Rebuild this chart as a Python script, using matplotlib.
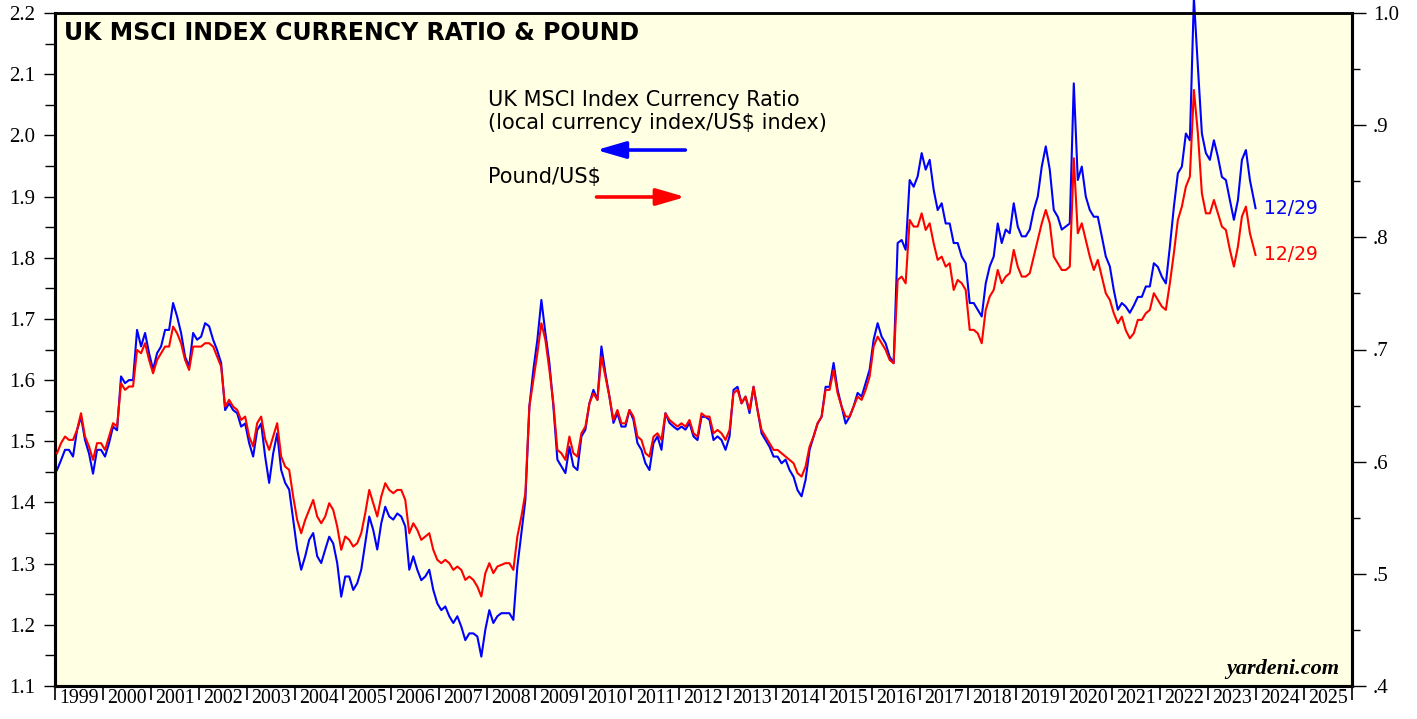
import matplotlib
matplotlib.use("Agg")
import matplotlib.pyplot as plt
import numpy as np
from matplotlib.ticker import MultipleLocator, FuncFormatter, NullFormatter, FixedLocator

# ---------------- data (monthly, mid-month values) ----------------
start_year = 1999
year_labels = [str(y) for y in range(1999, 2026)]

# UK MSCI Index Currency Ratio (local currency index / US$ index), left axis
ratio = [
    1.453, 1.469, 1.486, 1.486, 1.475, 1.518, 1.540, 1.502, 1.480, 1.447, 1.486, 1.486,  # 1999
    1.475, 1.497, 1.524, 1.518, 1.606, 1.595, 1.600, 1.600, 1.682, 1.655, 1.677, 1.644,  # 2000
    1.617, 1.644, 1.655, 1.682, 1.682, 1.726, 1.704, 1.677, 1.638, 1.622, 1.677, 1.666,  # 2001
    1.671, 1.693, 1.688, 1.666, 1.649, 1.628, 1.551, 1.562, 1.551, 1.546, 1.524, 1.529,  # 2002
    1.497, 1.475, 1.518, 1.529, 1.475, 1.432, 1.480, 1.513, 1.453, 1.432, 1.421, 1.372,  # 2003
    1.323, 1.290, 1.312, 1.339, 1.350, 1.312, 1.301, 1.323, 1.344, 1.333, 1.301, 1.246,  # 2004
    1.279, 1.279, 1.257, 1.268, 1.290, 1.333, 1.377, 1.355, 1.323, 1.366, 1.393, 1.377,  # 2005
    1.372, 1.382, 1.377, 1.361, 1.290, 1.312, 1.290, 1.273, 1.279, 1.290, 1.257, 1.235,  # 2006
    1.224, 1.230, 1.214, 1.203, 1.214, 1.197, 1.175, 1.186, 1.186, 1.181, 1.148, 1.192,  # 2007
    1.224, 1.203, 1.214, 1.219, 1.219, 1.219, 1.208, 1.295, 1.350, 1.404, 1.557, 1.617,  # 2008
    1.666, 1.731, 1.677, 1.628, 1.557, 1.470, 1.459, 1.448, 1.491, 1.459, 1.453, 1.508,  # 2009
    1.519, 1.562, 1.584, 1.568, 1.655, 1.611, 1.573, 1.530, 1.546, 1.524, 1.524, 1.551,  # 2010
    1.535, 1.497, 1.486, 1.464, 1.453, 1.497, 1.508, 1.486, 1.546, 1.530, 1.524, 1.519,  # 2011
    1.524, 1.519, 1.530, 1.508, 1.502, 1.540, 1.540, 1.535, 1.502, 1.508, 1.502, 1.486,  # 2012
    1.508, 1.584, 1.589, 1.562, 1.573, 1.546, 1.589, 1.551, 1.513, 1.502, 1.491, 1.475,  # 2013
    1.475, 1.464, 1.470, 1.453, 1.442, 1.420, 1.410, 1.437, 1.486, 1.508, 1.529, 1.540,  # 2014
    1.589, 1.589, 1.628, 1.584, 1.557, 1.529, 1.540, 1.557, 1.579, 1.573, 1.595, 1.617,  # 2015
    1.666, 1.693, 1.671, 1.660, 1.638, 1.628, 1.824, 1.829, 1.813, 1.927, 1.916, 1.933,  # 2016
    1.971, 1.944, 1.960, 1.911, 1.878, 1.889, 1.856, 1.856, 1.824, 1.824, 1.802, 1.791,  # 2017
    1.726, 1.726, 1.715, 1.704, 1.758, 1.786, 1.802, 1.856, 1.824, 1.846, 1.840, 1.889,  # 2018
    1.851, 1.835, 1.835, 1.846, 1.878, 1.900, 1.949, 1.982, 1.944, 1.878, 1.867, 1.846,  # 2019
    1.851, 1.856, 2.085, 1.927, 1.949, 1.900, 1.878, 1.867, 1.867, 1.835, 1.802, 1.786,  # 2020
    1.747, 1.715, 1.726, 1.720, 1.710, 1.722, 1.736, 1.736, 1.753, 1.753, 1.791, 1.785,  # 2021
    1.769, 1.758, 1.818, 1.883, 1.938, 1.949, 2.003, 1.992, 2.225, 2.112, 2.003, 1.971,  # 2022
    1.960, 1.992, 1.965, 1.932, 1.927, 1.894, 1.862, 1.894, 1.960, 1.976, 1.927, 1.881,  # 2023
]

# Pound / US$, right axis
pound = [
    0.6075, 0.6165, 0.6224, 0.6194, 0.6194, 0.6283, 0.6432, 0.6224, 0.6135, 0.6016, 0.6165, 0.6165,  # 1999
    0.6105, 0.6224, 0.6343, 0.6313, 0.6699, 0.6640, 0.6670, 0.6670, 0.6996, 0.6967, 0.7056, 0.6907,  # 2000
    0.6788, 0.6907, 0.6967, 0.7026, 0.7026, 0.7204, 0.7145, 0.7056, 0.6907, 0.6818, 0.7026, 0.7026,  # 2001
    0.7026, 0.7056, 0.7056, 0.7026, 0.6937, 0.6848, 0.6491, 0.6551, 0.6491, 0.6462, 0.6372, 0.6402,  # 2002
    0.6224, 0.6135, 0.6343, 0.6402, 0.6200, 0.6105, 0.6224, 0.6343, 0.6046, 0.5956, 0.5927, 0.5689,  # 2003
    0.5481, 0.5362, 0.5481, 0.5570, 0.5659, 0.5511, 0.5451, 0.5511, 0.5630, 0.5570, 0.5422, 0.5214,  # 2004
    0.5333, 0.5303, 0.5243, 0.5273, 0.5362, 0.5540, 0.5748, 0.5630, 0.5511, 0.5689, 0.5808, 0.5748,  # 2005
    0.5719, 0.5748, 0.5748, 0.5659, 0.5362, 0.5451, 0.5392, 0.5303, 0.5333, 0.5362, 0.5214, 0.5125,  # 2006
    0.5095, 0.5125, 0.5095, 0.5035, 0.5065, 0.5035, 0.4946, 0.4976, 0.4946, 0.4887, 0.4798, 0.5006,  # 2007
    0.5095, 0.5006, 0.5065, 0.5080, 0.5095, 0.5095, 0.5035, 0.5332, 0.5510, 0.5719, 0.6490, 0.6729,  # 2008
    0.6966, 0.7234, 0.7085, 0.6818, 0.6520, 0.6105, 0.6075, 0.6016, 0.6224, 0.6075, 0.6045, 0.6253,  # 2009
    0.6313, 0.6520, 0.6610, 0.6550, 0.6937, 0.6758, 0.6580, 0.6372, 0.6461, 0.6342, 0.6342, 0.6461,  # 2010
    0.6402, 0.6223, 0.6194, 0.6075, 0.6045, 0.6223, 0.6253, 0.6194, 0.6431, 0.6372, 0.6342, 0.6313,  # 2011
    0.6342, 0.6313, 0.6372, 0.6253, 0.6223, 0.6431, 0.6402, 0.6402, 0.6253, 0.6283, 0.6253, 0.6194,  # 2012
    0.6283, 0.6610, 0.6640, 0.6521, 0.6580, 0.6461, 0.6669, 0.6461, 0.6283, 0.6224, 0.6164, 0.6105,  # 2013
    0.6105, 0.6075, 0.6045, 0.6016, 0.5986, 0.5897, 0.5867, 0.5956, 0.6135, 0.6224, 0.6343, 0.6402,  # 2014
    0.6640, 0.6640, 0.6818, 0.6610, 0.6491, 0.6402, 0.6402, 0.6491, 0.6580, 0.6551, 0.6640, 0.6759,  # 2015
    0.7026, 0.7115, 0.7056, 0.6996, 0.6907, 0.6877, 0.7620, 0.7650, 0.7590, 0.8155, 0.8096, 0.8096,  # 2016
    0.8214, 0.8066, 0.8125, 0.7947, 0.7799, 0.7828, 0.7739, 0.7769, 0.7531, 0.7620, 0.7591, 0.7531,  # 2017
    0.7175, 0.7175, 0.7145, 0.7056, 0.7353, 0.7472, 0.7531, 0.7709, 0.7591, 0.7650, 0.7680, 0.7888,  # 2018
    0.7739, 0.7650, 0.7650, 0.7680, 0.7828, 0.7977, 0.8125, 0.8244, 0.8125, 0.7828, 0.7769, 0.7709,  # 2019
    0.7709, 0.7739, 0.8705, 0.8036, 0.8125, 0.7977, 0.7828, 0.7709, 0.7799, 0.7650, 0.7501, 0.7442,  # 2020
    0.7323, 0.7234, 0.7293, 0.7170, 0.7100, 0.7145, 0.7264, 0.7264, 0.7323, 0.7353, 0.7502, 0.7442,  # 2021
    0.7383, 0.7353, 0.7591, 0.7858, 0.8155, 0.8274, 0.8452, 0.8541, 0.9314, 0.8928, 0.8393, 0.8214,  # 2022
    0.8214, 0.8333, 0.8214, 0.8096, 0.8066, 0.7888, 0.7739, 0.7917, 0.8185, 0.8274, 0.8036, 0.7843,  # 2023
]

last_label = "12/29"

# ---------------- figure ----------------
W, H = 1417, 719
fig = plt.figure(figsize=(W / 100, H / 100), dpi=100)
fig.patch.set_facecolor("white")
ax = fig.add_axes([55 / W, 33 / H, 1297 / W, 673 / H])
ax.set_facecolor("#FFFFE3")

t = start_year + (np.arange(len(ratio)) + 0.5) / 12.0
t[-1] = start_year + (len(ratio) - 0.1) / 12.0

serif = ["Liberation Serif", "DejaVu Serif"]
sans = ["DejaVu Sans"]

ax.plot(t, ratio, color="#0000FF", lw=1.5, clip_on=False, zorder=3)
ax.set_xlim(1999, 2026)
ax.set_ylim(1.1, 2.2)

ax2 = ax.twinx()
ax2.plot(t, pound, color="#FF0000", lw=1.5, zorder=3)
ax2.set_ylim(0.4, 1.0)
ax2.patch.set_visible(False)

# spines
for a in (ax, ax2):
    for s in a.spines.values():
        s.set_linewidth(2.2)
        s.set_color("black")
    a.spines["top"].set_linewidth(1.8)

# left y ticks
ax.yaxis.set_major_locator(MultipleLocator(0.1))
ax.yaxis.set_minor_locator(MultipleLocator(0.05))
ax.yaxis.set_major_formatter(FuncFormatter(lambda v, p: "%.1f" % v))
ax.tick_params(axis="y", which="major", direction="out", length=8, width=1.0, pad=6,
               labelsize=15)
ax.tick_params(axis="y", which="minor", direction="out", length=7, width=1.0)
for lab in ax.get_yticklabels():
    lab.set_family(serif)

# right y ticks
def rfmt(v, p):
    s = "%.1f" % v
    return s if v >= 0.999 else s.lstrip("0")

ax2.yaxis.set_major_locator(MultipleLocator(0.1))
ax2.yaxis.set_minor_locator(MultipleLocator(0.05))
ax2.yaxis.set_major_formatter(FuncFormatter(rfmt))
ax2.tick_params(axis="y", which="major", direction="out", length=10, width=1.0, pad=5,
                labelsize=15)
ax2.tick_params(axis="y", which="minor", direction="out", length=6, width=1.0)
for lab in ax2.get_yticklabels():
    lab.set_family(serif)

# x ticks: boundaries (major) and labels at mid-year (minor)
years = np.arange(1999, 2027)
ax.xaxis.set_major_locator(FixedLocator(years))
ax.xaxis.set_major_formatter(NullFormatter())
ax.xaxis.set_minor_locator(FixedLocator(years[:-1] + 0.5))
ax.xaxis.set_minor_formatter(FuncFormatter(
    lambda v, p: year_labels[int(v - 1999)] if 0 <= int(v - 1999) < len(year_labels) else ""))
ax.tick_params(axis="x", which="major", direction="out", length=10, width=1.2)
ax.tick_params(axis="x", which="minor", length=0, pad=2.5, labelsize=14.3)
for lab in ax.get_xticklabels(minor=True):
    lab.set_family(serif)

# title
ax.text(0.007, 0.970, "UK MSCI INDEX CURRENCY RATIO & POUND", transform=ax.transAxes,
        family=sans, fontsize=17, fontweight="bold", va="center", ha="left", zorder=5)

# legend texts and arrows
ax.text(0.334, 0.871, "UK MSCI Index Currency Ratio", transform=ax.transAxes,
        family=sans, fontsize=15, va="center", ha="left")
ax.text(0.334, 0.836, "(local currency index/US$ index)", transform=ax.transAxes,
        family=sans, fontsize=15, va="center", ha="left")
ax.annotate("", xy=(0.4175, 0.7964), xytext=(0.486, 0.7964), xycoords="axes fraction",
            arrowprops=dict(arrowstyle="-|>,head_length=1.1,head_width=0.32",
                            color="#0000FF", lw=2.6, mutation_scale=16,
                            shrinkA=0, shrinkB=0))
ax.text(0.334, 0.7563, "Pound/US$", transform=ax.transAxes,
        family=sans, fontsize=15, va="center", ha="left")
ax.annotate("", xy=(0.486, 0.7266), xytext=(0.4175, 0.7266), xycoords="axes fraction",
            arrowprops=dict(arrowstyle="-|>,head_length=1.1,head_width=0.32",
                            color="#FF0000", lw=2.6, mutation_scale=16,
                            shrinkA=0, shrinkB=0))

# end labels
ax.annotate(last_label, xy=(t[-1], ratio[-1]), xytext=(6, 0), textcoords="offset points",
            color="#0000FF", family=sans, fontsize=13.5, va="center", ha="left")
ax2.annotate(last_label, xy=(t[-1], pound[-1]), xytext=(6, 0), textcoords="offset points",
             color="#FF0000", family=sans, fontsize=13.5, va="center", ha="left")

# source
ax.text(0.9905, 0.025, "yardeni.com", transform=ax.transAxes, family=serif,
        fontsize=16, fontweight="bold", fontstyle="italic", va="center", ha="right")

fig.savefig("out.png", dpi=100, facecolor="white")
